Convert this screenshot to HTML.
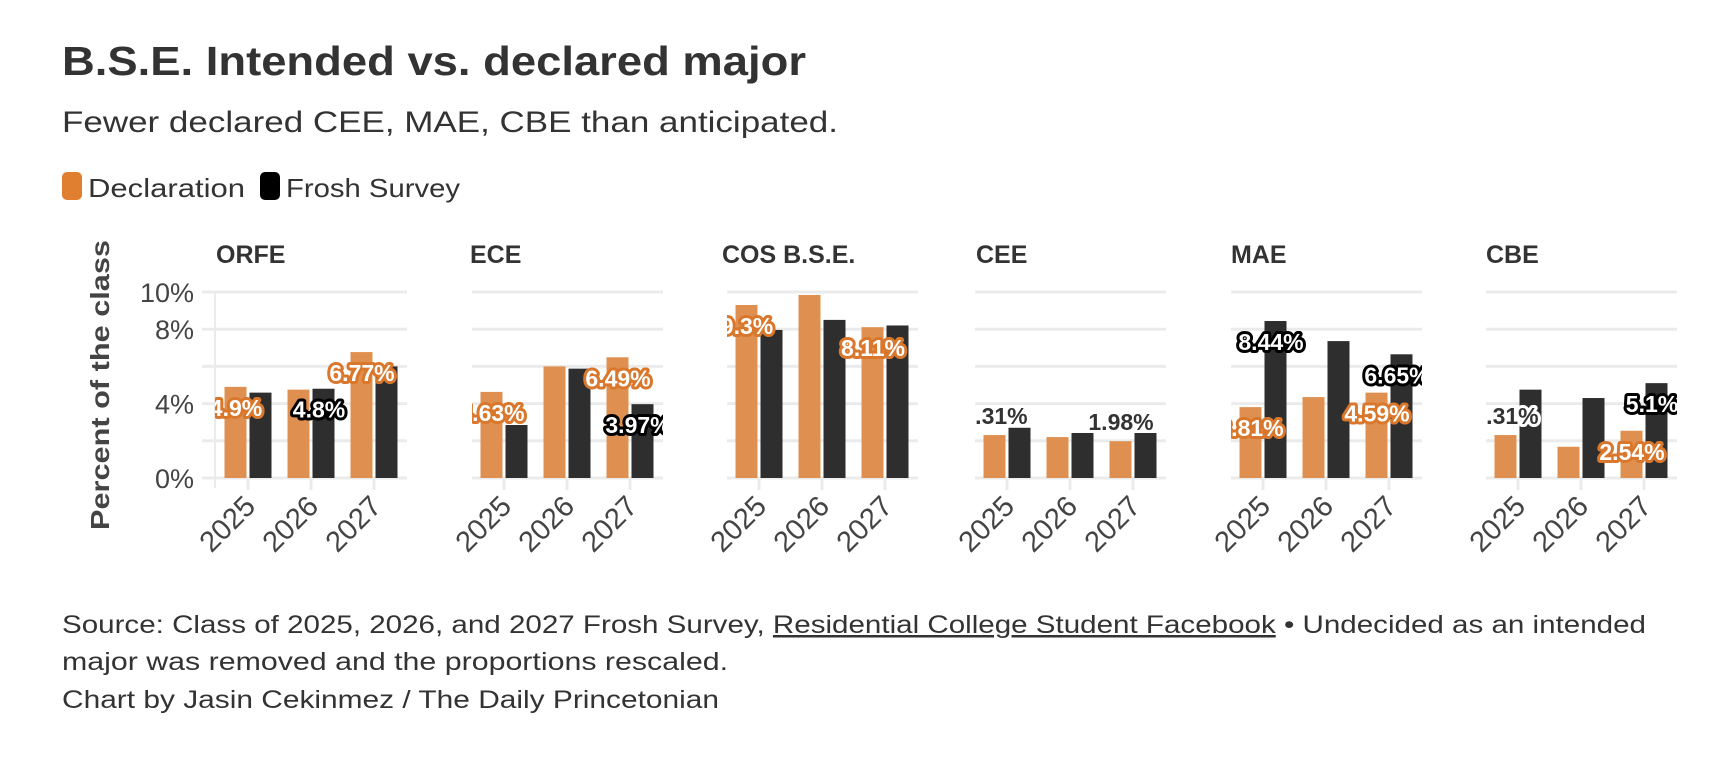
<!DOCTYPE html>
<html><head><meta charset="utf-8"><style>
html,body{margin:0;padding:0;background:#fff;}
svg{display:block;font-family:"Liberation Sans",sans-serif;}
</style></head><body>
<svg id="chart" width="1711" height="758" viewBox="0 0 1711 758">
<text x="62" y="75" font-size="41" font-weight="bold" fill="#333" textLength="744" lengthAdjust="spacingAndGlyphs">B.S.E. Intended vs. declared major</text>
<text x="62" y="132" font-size="30" fill="#333" textLength="776" lengthAdjust="spacingAndGlyphs">Fewer declared CEE, MAE, CBE than anticipated.</text>
<g>
<rect x="62" y="172" width="20" height="28" rx="5" fill="#e07f2f"/>
<text x="88" y="197" font-size="26" fill="#333" textLength="157" lengthAdjust="spacingAndGlyphs">Declaration</text>
<rect x="260" y="172" width="20" height="28" rx="5" fill="#000"/>
<text x="286" y="197" font-size="26" fill="#333" textLength="174" lengthAdjust="spacingAndGlyphs">Frosh Survey</text>
</g>
<text transform="translate(109,385) rotate(-90)" text-anchor="middle" font-size="26" font-weight="bold" fill="#444" textLength="290" lengthAdjust="spacingAndGlyphs">Percent of the class</text>
<g id="plots"></g>
<g font-size="25" fill="#333">
<text x="62" y="633" textLength="1584" lengthAdjust="spacingAndGlyphs">Source: Class of 2025, 2026, and 2027 Frosh Survey, <tspan text-decoration="underline">Residential College Student Facebook</tspan> • Undecided as an intended</text>
<text x="62" y="670" textLength="666" lengthAdjust="spacingAndGlyphs">major was removed and the proportions rescaled.</text>
<text x="62" y="708" textLength="657" lengthAdjust="spacingAndGlyphs">Chart by Jasin Cekinmez / The Daily Princetonian</text>
</g>
</svg>
<script>
const majors = ["ORFE","ECE","COS B.S.E.","CEE","MAE","CBE"];
const years = ["2025","2026","2027"];
const declaration = [[4.9,4.75,6.77],[4.63,6.0,6.49],[9.3,9.84,8.11],[2.31,2.2,1.98],[3.81,4.35,4.59],[2.31,1.68,2.54]];
const froshSurvey = [[4.59,4.8,6.0],[2.85,5.88,3.97],[7.96,8.5,8.2],[2.7,2.42,2.42],[8.44,7.36,6.65],[4.75,4.3,5.1]];
const yTicks = [0,4,8,10];
const yGrid = [0,2,4,6,8,10];
// labels: [panel, series(0 decl,1 frosh), yearIndex, placement]
const valueLabels = [[0,0,0,"in"],[0,1,1,"in"],[0,0,2,"in"],[1,0,0,"in"],[1,0,2,"in"],[1,1,2,"in"],[2,0,0,"in"],[2,0,2,"in"],[3,0,0,"out"],[3,0,2,"out"],[4,0,0,"in"],[4,1,0,"in"],[4,0,2,"in"],[4,1,2,"in"],[5,0,0,"out"],[5,0,2,"in"],[5,1,2,"in"]];

const NS="http://www.w3.org/2000/svg";
const plots=document.getElementById('plots');
const y0=478, pxPer=18.6;
const yScale=v=>y0-v*pxPer;
const firstCenters=[248,504,759,1007,1263,1518];
const titleX=[216,470,722,976,1231,1486];
const step=63, bw=22;
const xCenter=(p,i)=>firstCenters[p]+i*step;
function mk(tag,attrs,parent){const e=document.createElementNS(NS,tag);for(const k in attrs)e.setAttribute(k,attrs[k]);parent.appendChild(e);return e;}
const defs=mk('defs',{},plots);
majors.forEach((m,p)=>{
  const g=mk('g',{},plots);
  
  
  const gs=p===0?202:firstCenters[p]-32, ge=Math.min(firstCenters[p]+2*step+33,1711);
  const cs=p===0?215:gs;
  const cp=mk('clipPath',{id:'clip'+p},defs);
  mk('rect',{x:cs,y:200,width:ge-cs,height:300},cp);
  const t=mk('text',{x:titleX[p],y:263,'font-size':25,'font-weight':'bold',fill:'#333'},g);
  t.textContent=m;
  
  
  yGrid.forEach(v=>{
    const l=mk('line',{x1:gs,x2:ge,y1:yScale(v),y2:yScale(v),stroke:'#ebebeb','stroke-width':3},g);
    
    
  });
  if(p===0){
    mk('line',{x1:215,x2:215,y1:yScale(10),y2:y0+10,stroke:'#ebebeb','stroke-width':2},g);
    yTicks.forEach(v=>{
      const tt=mk('text',{x:194,y:yScale(v)+10,'text-anchor':'end','font-size':27,fill:'#444'},g);
      tt.textContent=v+'%';
      
      
    });
  }
  years.forEach((yr,i)=>{
    const c=xCenter(p,i);
    mk('line',{x1:c,x2:c,y1:y0,y2:y0+12,stroke:'#ebebeb','stroke-width':3},g);
    const d=mk('rect',{x:c-bw-1.5,y:yScale(declaration[p][i]),width:bw,height:declaration[p][i]*pxPer,fill:'#df9050'},g);
    
    
    const f=mk('rect',{x:c+1.5,y:yScale(froshSurvey[p][i]),width:bw,height:froshSurvey[p][i]*pxPer,fill:'#2e2e2e'},g);
    
    
    const xl=mk('text',{transform:`translate(${c+9},${y0+30}) rotate(-45)`,'text-anchor':'end','font-size':29,fill:'#444'},g);
    xl.textContent=yr;
    
    
  });
});
valueLabels.forEach(([p,s,i,pos])=>{
  const v=s===0?declaration[p][i]:froshSurvey[p][i];
  const c=xCenter(p,i)+(s===0?-12:8);
  const y=pos==="in"?yScale(v)+21:yScale(v)-19;
  const fill=pos==="in"?'#fff':'#333';
  const stroke=pos==="in"?(s===0?'#d9782d':'#000'):'#fff';
  const t=mk('text',{x:c,y:y+8,'text-anchor':'middle','font-size':23,'font-weight':'bold',fill:fill,stroke:stroke,'stroke-width':6,'stroke-linejoin':'round','paint-order':'stroke','clip-path':`url(#clip${p})`},plots);
  t.textContent=v+'%';
  
  
});
</script>
</body></html>
